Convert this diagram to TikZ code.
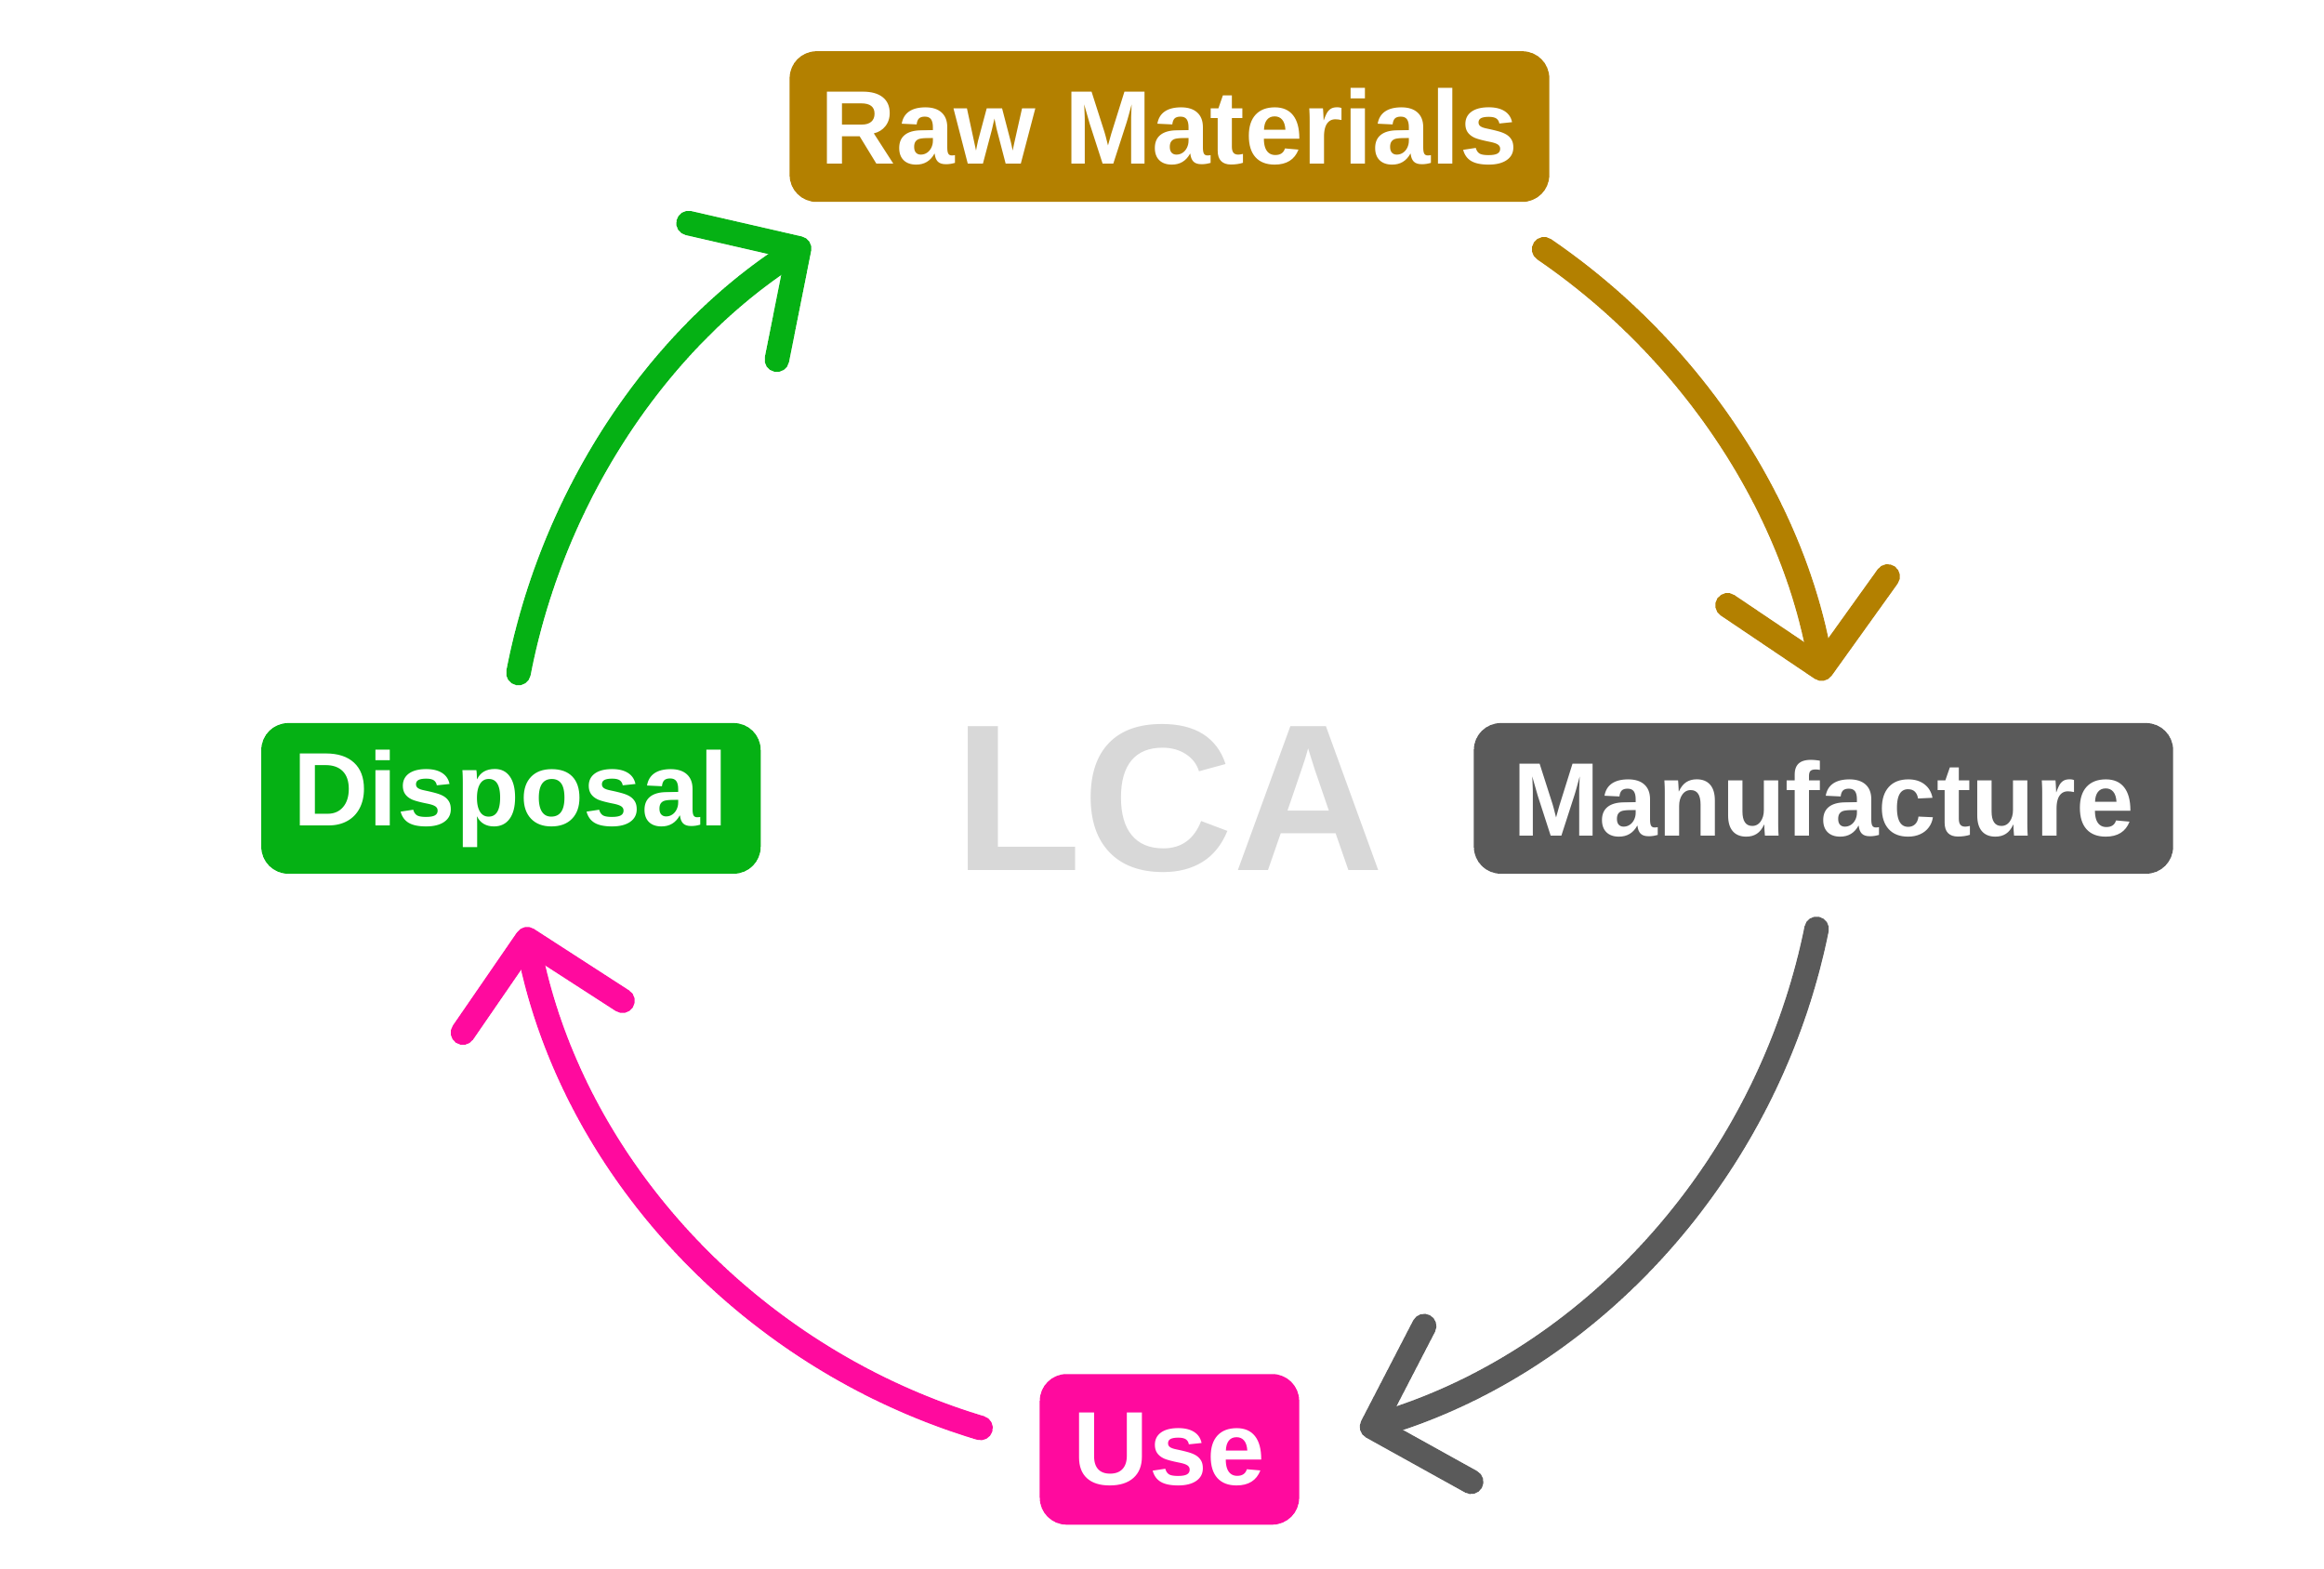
\documentclass[tikz,border=0pt]{standalone}
\usepackage{fontspec}
\setmainfont{Liberation Sans}
\usetikzlibrary{positioning, arrows.meta, calc}
\definecolor{rawcol}{HTML}{B38000}
\definecolor{mancol}{HTML}{5A5A5A}
\definecolor{usecol}{HTML}{FF0A9E}
\definecolor{dispcol}{HTML}{05B114}
\definecolor{lcacol}{HTML}{D8D8D8}

\begin{document}
\begin{tikzpicture}[
    x=0.016026cm, y=0.016026cm,
    stage/.style={rectangle, rounded corners=0.29cm, text=white, minimum height=1.62cm,
                  inner sep=0pt, font=\fontsize{32}{38}\selectfont\bfseries},
    cycle/.style={line width=7.5pt, line cap=round, line join=round,
                  -{Straight Barb[length=0.85cm, width=1.75cm, round]}}
]
    \useasboundingbox (0,0) rectangle (1560,1053);

    % === stages ===
    \node[font=\fontsize{64}{70}\selectfont\bfseries, text=lcacol] (lca) at (785,517) {LCA};
    \node[stage, fill=rawcol, minimum width=8.17cm] (raw) at (785,968) {Raw Materials};
    \node[stage, fill=mancol, minimum width=7.52cm] (man) at (1224,517) {Manufacture};
    \node[stage, fill=usecol, minimum width=2.79cm] (use) at (785,80) {Use};
    \node[stage, fill=dispcol, minimum width=5.37cm] (disp) at (343,517) {Disposal};

    % === arcs round the centre ===
    \coordinate (rawOut) at ($(lca)+(55.7:7.15cm)$);
    \coordinate (manOut) at ($(lca)+(-11.4:7.1cm)$);
    \coordinate (useOut) at ($(lca)+(-106.7:7.07cm)$);
    \coordinate (dispOut) at ($(lca)+(169.1:7.13cm)$);

    \draw[cycle, rawcol] (rawOut) arc[start angle=55.7, end angle=10.2, radius=7.15cm];
    \draw[cycle, mancol] (manOut) arc[start angle=-11.4, end angle=-73.2, radius=7.1cm];
    \draw[cycle, usecol] (useOut) arc[start angle=-106.7, end angle=-168.7, radius=7.07cm];
    \draw[cycle, dispcol] (dispOut) arc[start angle=169.1, end angle=122.9, radius=7.13cm];
\end{tikzpicture}
\end{document}
